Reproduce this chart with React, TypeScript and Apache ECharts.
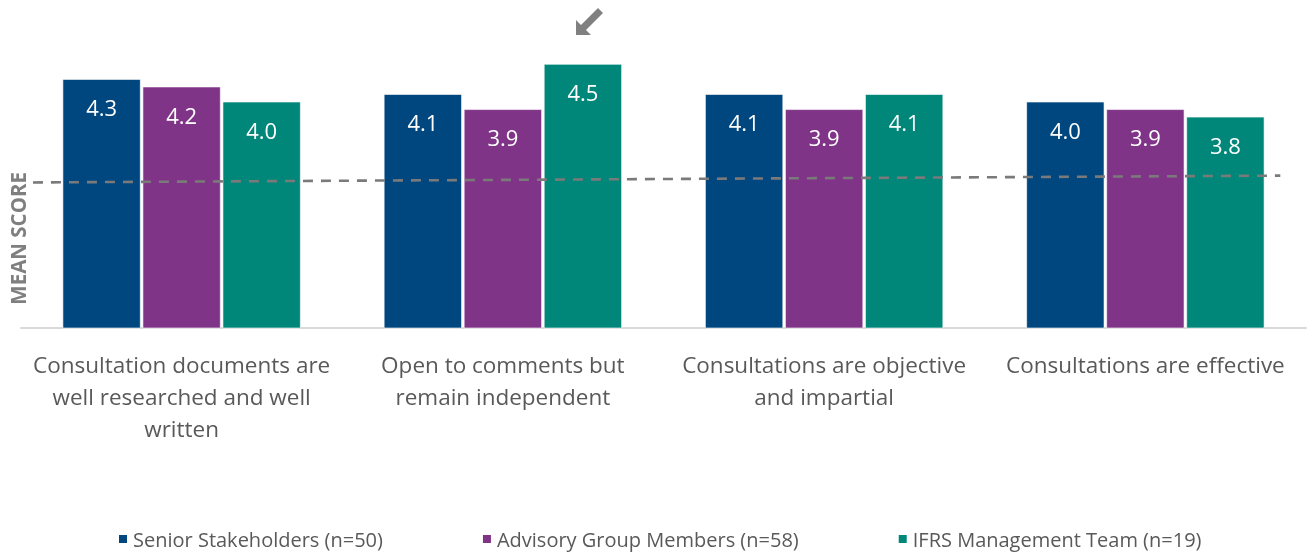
import React, { useEffect, useRef } from "react";
import * as echarts from "echarts";

const categories = [
  "Consultation documents are\nwell researched and well\nwritten",
  "Open to comments but\nremain independent",
  "Consultations are objective\nand impartial",
  "Consultations are effective",
];
const seriesNames = [
  "Senior Stakeholders (n=50)",
  "Advisory Group Members (n=58)",
  "IFRS Management Team (n=19)",
];
const seniorStakeholders = [4.3, 4.1, 4.1, 4.0];
const advisoryGroup = [4.2, 3.9, 3.9, 3.9];
const ifrsManagement = [4.0, 4.5, 4.1, 3.8];
const colors = ["#00477F", "#803487", "#00877A"];
// dashed reference line: [position along the plot (0..1), mean score]
const referenceLine = [
  [0.0093, 2.93],
  [0.98, 3.02],
];

const FONT = "'Open Sans', 'Noto Sans', sans-serif";

echarts.graphic.registerShape(
  "arrowDownLeft",
  echarts.graphic.extendPath(
    "M0 26 L0 11 L5 16 L22 -1 L27 4 L10 21 L15 26 Z",
    {}
  )
);

export default function App() {
  const ref = useRef<HTMLDivElement>(null);
  useEffect(() => {
    if (!ref.current) return;
    const chart = echarts.init(ref.current, undefined, { renderer: "svg" });
    const values = [seniorStakeholders, advisoryGroup, ifrsManagement];
    chart.setOption({
      animation: false,
      textStyle: { fontFamily: FONT },
      grid: { left: 21, right: 4, top: 26.3, bottom: 226, containLabel: false },
      legend: {
        bottom: 0,
        left: 112,
        icon: "rect",
        itemWidth: 10,
        itemHeight: 10,
        itemGap: 98,
        textStyle: { fontSize: 20, color: "#595959", fontFamily: FONT },
        data: seriesNames,
      },
      xAxis: [
        {
          type: "category",
          data: categories,
          axisLine: { lineStyle: { color: "#d9d9d9", width: 2 } },
          axisTick: { show: false },
          axisLabel: {
            fontSize: 22.5,
            color: "#595959",
            lineHeight: 32,
            margin: 20,
            interval: 0,
            fontFamily: FONT,
          },
        },
        {
          type: "value",
          min: 0,
          max: 1,
          show: false,
        },
      ],
      yAxis: {
        type: "value",
        min: 1,
        max: 5,
        show: false,
      },
      series: [
        ...values.map((v, i) => ({
          type: "bar",
          name: seriesNames[i],
          data: v,
          xAxisIndex: 0,
          barWidth: 78,
          barGap: "2.6%",
          itemStyle: { color: colors[i], borderColor: "#ffffff", borderWidth: 0.6 },
          label: {
            show: true,
            position: "insideTop",
            distance: 17,
            color: "#ffffff",
            fontSize: 22,
            fontFamily: FONT,
            formatter: (p: any) => Number(p.value).toFixed(1),
          },
        })),
        {
          type: "line",
          name: "reference",
          xAxisIndex: 1,
          data: referenceLine,
          symbol: "none",
          lineStyle: { color: "#7a7a7a", width: 2.6, type: [10, 8] },
          silent: true,
          z: 5,
        },
      ],
      graphic: [
        {
          type: "text",
          left: 7,
          top: 172,
          rotation: Math.PI / 2,
          style: {
            text: "MEAN SCORE",
            fontSize: 20.5,
            fontWeight: "bold",
            fill: "#7f7f7f",
            fontFamily: FONT,
          },
        },
        {
          type: "arrowDownLeft",
          x: 576,
          y: 9,
          style: { fill: "#808080" },
        },
      ],
    });
    return () => chart.dispose();
  }, []);
  return (
    <div
      ref={ref}
      style={{ position: "fixed", left: 0, top: 0, width: 1310, height: 554 }}
    />
  );
}
